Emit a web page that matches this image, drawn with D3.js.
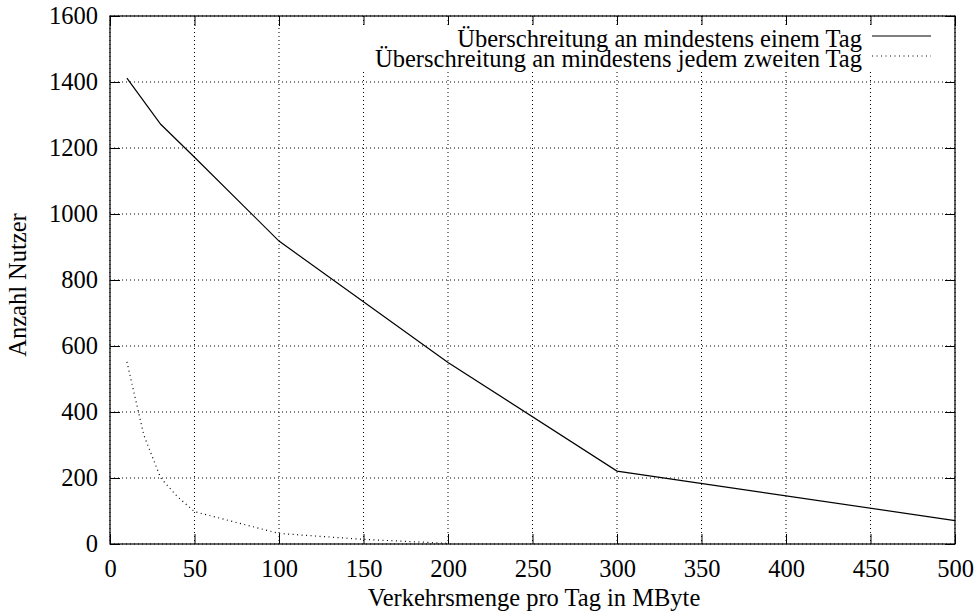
<!DOCTYPE html>
<html>
<head>
    <meta charset="utf-8">
    <title>Anzahl Nutzer</title>
    <script src="https://d3js.org/d3.v7.min.js"></script>
    <style>
        body { margin: 0; background: #fff; }
        text { font-family: "Liberation Serif", "DejaVu Serif", serif; fill: #000; }
        .grid line { stroke: #000; stroke-width: 1; stroke-dasharray: 1,3; }
        .line { fill: none; stroke: #000; stroke-width: 1.2; }
        .dotted { stroke-dasharray: 1,3.5; stroke-width: 1.2; }
    </style>
</head>
<body>
<div id="chart"></div>
<script>
    // data
    var mbyte1 = [10, 30, 50, 100, 200, 300, 500];
    var nutzer1 = [1412, 1272, 1172, 918, 550, 221, 71];
    var mbyte2 = [10, 20, 30, 40, 50, 100, 150, 200];
    var nutzer2 = [552, 330, 200, 143, 98, 32, 14, 2];
    var xTicks = [0, 50, 100, 150, 200, 250, 300, 350, 400, 450, 500];
    var yTicks = [0, 200, 400, 600, 800, 1000, 1200, 1400, 1600];
    var seriesNames = ["Überschreitung an mindestens einem Tag",
                       "Überschreitung an mindestens jedem zweiten Tag"];

    var W = 978, H = 614;
    var fs = "24.5px";
    var margin = { top: 16, right: 23, bottom: 70, left: 110 },
        width = W - margin.left - margin.right,
        height = H - margin.top - margin.bottom;

    var x = d3.scaleLinear().domain([0, 500]).range([0, width]);
    var y = d3.scaleLinear().domain([0, 1600]).range([height, 0]);

    var svg = d3.select("#chart").append("svg")
        .attr("width", W)
        .attr("height", H)
        .append("g")
        .attr("transform", "translate(" + margin.left + "," + margin.top + ")");

    // grid
    var grid = svg.append("g").attr("class", "grid");
    grid.selectAll("line.v").data(xTicks).enter().append("line")
        .attr("x1", function (d) { return x(d); })
        .attr("x2", function (d) { return x(d); })
        .attr("y1", 0).attr("y2", height);
    grid.selectAll("line.h").data(yTicks).enter().append("line")
        .attr("y1", function (d) { return y(d); })
        .attr("y2", function (d) { return y(d); })
        .attr("x1", 0).attr("x2", width);

    // axes with inward ticks, mirrored on top and right
    function styleAxis(g) {
        g.select(".domain").remove();
        g.selectAll(".tick line").attr("stroke", "#000");
        g.selectAll(".tick text").style("font-size", fs)
            .style("font-family", "'Liberation Serif', serif");
    }
    svg.append("g")
        .attr("transform", "translate(0," + height + ")")
        .call(d3.axisBottom(x).tickValues(xTicks).tickFormat(d3.format("d"))
            .tickSizeInner(-10).tickPadding(16))
        .call(styleAxis);
    svg.append("g")
        .call(d3.axisLeft(y).tickValues(yTicks).tickFormat(d3.format("d"))
            .tickSizeInner(-10).tickPadding(12))
        .call(styleAxis);
    svg.append("g")
        .call(d3.axisTop(x).tickValues(xTicks).tickSizeInner(-10).tickFormat(""))
        .call(styleAxis);
    svg.append("g")
        .attr("transform", "translate(" + width + ",0)")
        .call(d3.axisRight(y).tickValues(yTicks).tickSizeInner(-10).tickFormat(""))
        .call(styleAxis);

    // legend background hides the grid
    svg.append("rect")
        .attr("x", 252).attr("y", 9)
        .attr("width", 578).attr("height", 47)
        .attr("fill", "#fff");

    svg.append("rect")
        .attr("width", width).attr("height", height)
        .attr("fill", "none").attr("stroke", "#000").attr("stroke-width", 1.2);

    var line = d3.line()
        .x(function (d) { return x(d[0]); })
        .y(function (d) { return y(d[1]); });

    svg.append("path")
        .datum(d3.zip(mbyte1, nutzer1))
        .attr("class", "line")
        .attr("d", line);
    svg.append("path")
        .datum(d3.zip(mbyte2, nutzer2))
        .attr("class", "line dotted")
        .attr("d", line);

    // legend
    var leg = svg.selectAll("g.leg").data(seriesNames).enter().append("g")
        .attr("transform", function (d, i) { return "translate(0," + (20 + i * 20) + ")"; });
    leg.append("text")
        .attr("x", 752).attr("y", 11)
        .attr("text-anchor", "end")
        .style("font-size", fs)
        .text(function (d) { return d; });
    leg.append("line")
        .attr("x1", 762).attr("x2", 821)
        .attr("y1", 0).attr("y2", 0)
        .attr("class", function (d, i) { return i ? "line dotted" : "line"; });

    // axis titles
    svg.append("text")
        .attr("x", 424).attr("y", height + 62)
        .attr("text-anchor", "middle")
        .style("font-size", fs)
        .text("Verkehrsmenge pro Tag in MByte");
    svg.append("text")
        .attr("transform", "rotate(-90)")
        .attr("x", -269).attr("y", -84)
        .attr("text-anchor", "middle")
        .style("font-size", fs)
        .text("Anzahl Nutzer");
</script>
</body>
</html>
